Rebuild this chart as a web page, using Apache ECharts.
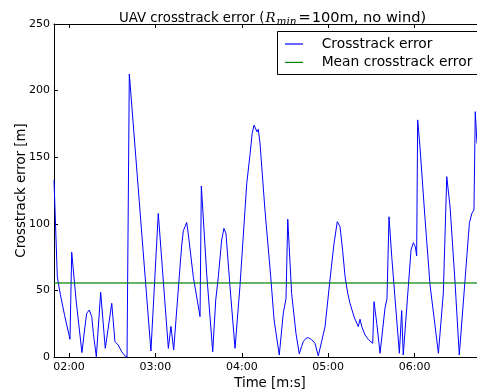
<!DOCTYPE html>
<html>
<head>
<meta charset="utf-8">
<script src="https://cdn.jsdelivr.net/npm/echarts@6/dist/echarts.min.js"></script>
<style>
html,body{margin:0;padding:0;background:#fff;}
#chart{width:477px;height:391px;}
</style>
</head>
<body>
<div id="chart"></div>
<script>
// Time in seconds since start
const timeSec = [
  109.6, 111.9, 114.0, 117.0, 120.7, 121.9, 125.0, 129.0, 131.1, 132.3,
  134.1, 135.8, 136.9, 139.0, 142.0, 145.2, 146.0, 149.7, 150.8, 151.9,
  154.2, 156.6, 158.9, 160.3, 161.2, 161.9, 176.9, 182.0, 189.0, 190.8,
  192.7, 197.1, 198.3, 199.4, 200.6, 201.7, 202.8, 206.3, 211.0, 211.9,
  215.6, 219.8, 221.9, 223.7, 226.0, 227.6, 229.0, 231.8, 235.3, 236.0,
  238.7, 243.4, 245.7, 247.2, 248.5, 249.6, 250.6, 251.4, 252.6, 256.1,
  260.1, 262.4, 266.0, 268.8, 270.7, 271.9, 274.6, 277.6, 279.9, 281.5,
  282.7, 284.5, 286.2, 288.5, 290.8, 293.1, 294.3, 297.8, 301.2, 304.0,
  306.3, 308.2, 310.0, 311.7, 313.5, 315.1, 318.0, 320.9, 322.1, 323.3,
  325.6, 328.0, 330.9, 331.8, 333.7, 336.0, 339.4, 340.8, 342.2, 344.1,
  349.4, 351.0, 352.1, 355.6, 357.5, 359.1, 360.5, 361.4, 362.1, 363.7,
  367.2, 370.7, 371.9, 376.5, 379.9, 382.3, 384.6, 388.1, 391.0, 395.0,
  398.0, 399.7, 401.2, 402.1, 403.3
];
// Crosstrack error in metres
const crosstrackErr = [
  133, 60, 47, 31, 13.3, 78.6, 42, 3.3, 22.8, 32.8,
  35.3, 30.3, 17.8, 0.2, 48.6, 6.5, 7, 40.3, 39, 11.5,
  9, 4, 0.8, 0, 0, 212.5, 4.5, 107.8, 6.5, 23,
  5.3, 67.8, 84, 94.8, 97.8, 101, 92.8, 60.3, 30.3, 128.4,
  62.8, 4, 42.8, 60.3, 87.8, 96.6, 92.8, 52.8, 6.5, 5.8,
  52.8, 130, 152, 168, 174, 173, 169, 171, 161, 110,
  60, 28, 1.5, 32.8, 44, 103.4, 47.8, 17.8, 2.3, 8,
  11.5, 14, 14.5, 13, 10.3, 0.8, 0.8, 22.8, 57.8, 85,
  101.6, 97.8, 80, 60.3, 48, 40.3, 30, 22.8, 28.3, 22.8,
  16.5, 13, 10.3, 41.5, 25.3, 2.8, 36.5, 44, 105.3, 75.3,
  2.8, 34.8, 1.5, 52.8, 80.3, 85.8, 82.8, 75.8, 178, 157.9,
  104, 54, 54, 2.8, 47.8, 135.4, 112.8, 55.3, 1.5, 57.8,
  100.4, 107.8, 110.4, 184.2, 160.4
];
const meanErr = 55.5;
const xRange = [109.6, 403.3];
const xTicks = [120, 180, 240, 300, 360];
const seriesNames = ['Crosstrack error', 'Mean crosstrack error'];
const seriesColors = ['#0000ff', '#008000'];

function mmss(v) {
  const m = Math.floor(v / 60), s = Math.round(v - m * 60);
  return String(m).padStart(2, '0') + ':' + String(s).padStart(2, '0');
}

const FONT = 'DejaVu Sans';
const chart = echarts.init(document.getElementById('chart'));
chart.setOption({
  animation: false,
  backgroundColor: '#fff',
  color: seriesColors,
  title: {
    text: 'UAV crosstrack error ({r|R}{s|min}{eq|=}{t|100m, no wind)}',
    left: 119, top: 9, padding: 0,
    textStyle: {
      fontFamily: FONT, fontSize: 13.3, fontWeight: 'normal', color: '#000', lineHeight: 19,
      rich: {
        r: {fontFamily: 'DejaVu Serif', fontStyle: 'italic', fontSize: 13.3, lineHeight: 19, color: '#000', padding: [0, 0, 0, 1]},
        s: {fontFamily: 'DejaVu Serif', fontStyle: 'italic', fontSize: 10.5, lineHeight: 8, verticalAlign: 'bottom', color: '#000', padding: [0, 2, 0, 1]},
        eq: {fontFamily: FONT, fontSize: 14.6, lineHeight: 19, color: '#000', padding: [0, 1, 0, 0]},
        t: {fontFamily: FONT, fontSize: 14.6, lineHeight: 19, color: '#000'}
      }
    }
  },
  graphic: [{
    type: 'rect', z: 3,
    shape: {x: 277.5, y: 31.5, width: 230, height: 43},
    style: {fill: '#fff', stroke: '#000', lineWidth: 1}
  }],
  legend: {
    data: seriesNames,
    orient: 'vertical',
    left: 285, top: 36,
    padding: 0,
    icon: 'rect',
    itemWidth: 18, itemHeight: 1.2, itemGap: 2.4,
    textStyle: {fontFamily: FONT, fontSize: 13.8, lineHeight: 16, color: '#000', padding: [0, 0, 0, 13.7]}
  },
  grid: {left: 54, right: 0, top: 24, bottom: 34, containLabel: false, outerBoundsMode: 'none'},
  xAxis: [{
    type: 'value', min: xRange[0], max: xRange[1], position: 'bottom',
    name: 'Time [m:s]', nameLocation: 'middle', nameGap: 20, nameMoveOverlap: false,
    nameTextStyle: {fontFamily: FONT, fontSize: 13.3, color: '#000', padding: [0, 0, 0, 9]},
    axisLine: {show: true, lineStyle: {color: '#000', width: 1}},
    axisTick: {show: true, inside: true, length: 4, customValues: xTicks, lineStyle: {color: '#000'}},
    axisLabel: {customValues: xTicks, formatter: mmss, fontFamily: FONT, fontSize: 11, color: '#000', margin: 5},
    splitLine: {show: false}
  }, {
    type: 'value', min: xRange[0], max: xRange[1], position: 'top',
    axisLine: {show: true, lineStyle: {color: '#000', width: 1}},
    axisTick: {show: true, inside: true, length: 4, customValues: xTicks, lineStyle: {color: '#000'}},
    axisLabel: {show: false},
    splitLine: {show: false}
  }],
  yAxis: {
    type: 'value', min: 0, max: 250, interval: 50,
    name: 'Crosstrack error [m]', nameLocation: 'middle', nameGap: 26, nameMoveOverlap: false,
    nameTextStyle: {fontFamily: FONT, fontSize: 13.3, color: '#000'},
    axisLine: {show: true, lineStyle: {color: '#000', width: 1}},
    axisTick: {show: true, inside: true, length: 4, lineStyle: {color: '#000'}},
    axisLabel: {fontFamily: FONT, fontSize: 11, color: '#000', margin: 4},
    splitLine: {show: false}
  },
  series: [{
    name: seriesNames[0], type: 'line', xAxisIndex: 0, z: 2,
    data: timeSec.map((t, i) => [t, crosstrackErr[i]]),
    symbol: 'none', showSymbol: false, clip: true,
    color: seriesColors[0],
    lineStyle: {color: seriesColors[0], width: 1}, itemStyle: {color: seriesColors[0]},
    emphasis: {disabled: true}
  }, {
    name: seriesNames[1], type: 'line', xAxisIndex: 0, z: 2.5,
    data: [[xRange[0], meanErr], [xRange[1], meanErr]],
    symbol: 'none', showSymbol: false, clip: true,
    color: seriesColors[1],
    lineStyle: {color: seriesColors[1], width: 1.6, opacity: 0.8}, itemStyle: {color: seriesColors[1]},
    emphasis: {disabled: true}
  }]
});
</script>
</body>
</html>
